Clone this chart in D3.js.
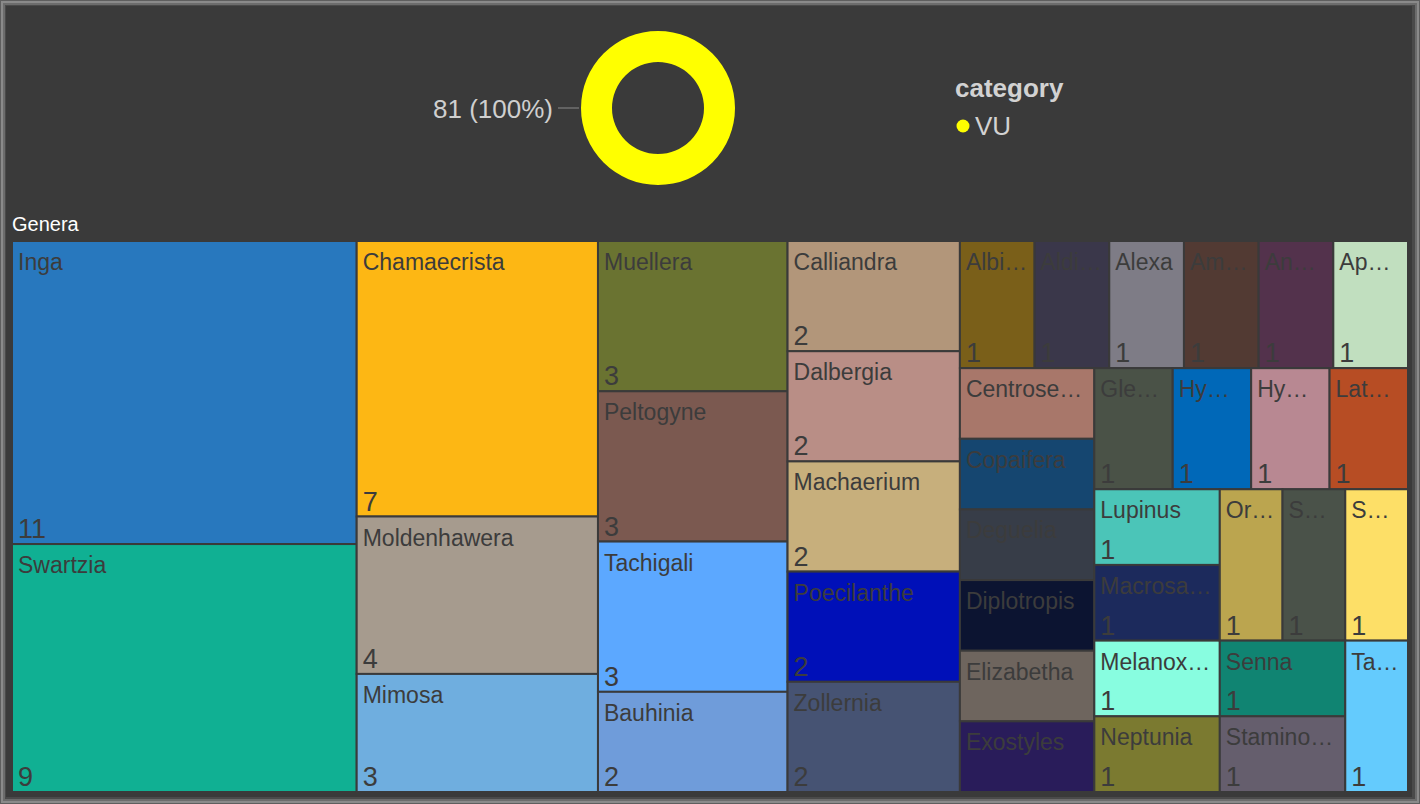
<!DOCTYPE html>
<html>
<head>
<meta charset="utf-8">
<script src="https://cdn.jsdelivr.net/npm/d3@7"></script>
<style>
html, body { margin: 0; padding: 0; background: #3a3a3a; overflow: hidden; }
svg { display: block; }
text { font-family: "Liberation Sans", Arial, sans-serif; }
</style>
</head>
<body>
<svg id="chart" width="1420" height="804"></svg>
<script>
// ---------------- data ----------------
const categories = ["VU"];
const categoryCounts = [81];
const categoryColors = ["#FFFF00"];

const genera = [
  "Inga", "Swartzia", "Chamaecrista", "Moldenhawera", "Mimosa", "Muellera", "Peltogyne", "Tachigali",
  "Bauhinia", "Calliandra", "Dalbergia", "Machaerium", "Poecilanthe", "Zollernia",
  "Albi…", "Aldi…", "Alexa", "Am…", "An…", "Ap…",
  "Centrose…", "Copaifera", "Deguelia", "Diplotropis", "Elizabetha", "Exostyles",
  "Gle…", "Hy…", "Hy…", "Lat…",
  "Lupinus", "Macrosa…", "Melanox…", "Neptunia",
  "Or…", "S…", "S…", "Senna", "Stamino…", "Ta…"
];
const generaCounts = [
  11, 9, 7, 4, 3, 3, 3, 3,
  2, 2, 2, 2, 2, 2,
  1, 1, 1, 1, 1, 1,
  1, 1, 1, 1, 1, 1,
  1, 1, 1, 1,
  1, 1, 1, 1,
  1, 1, 1, 1, 1, 1
];
const generaColors = [
  "#2878BE", "#10B093", "#FDB714", "#A69B8E", "#6FAEDF", "#6A7331", "#7B5950", "#5CA8FF",
  "#6F9CDA", "#B2967A", "#B98E86", "#C7AF7C", "#0010B8", "#465373",
  "#7A5F19", "#3A374A", "#7E7C86", "#523A33", "#53324C", "#C1DFBF",
  "#A8776A", "#154670", "#373D48", "#0C1431", "#6E655E", "#291C5A",
  "#4A5247", "#0068B8", "#B88892", "#B74D24",
  "#4BC5B8", "#1C2A5C", "#88FDE0", "#7B7A30",
  "#BBA54F", "#4A5249", "#FDDF67", "#108472", "#655E6D", "#64CBFD"
];

// ---------------- drawing ----------------
const svg = d3.select("#chart");

// frame
const frame = [
  {inset: 0, fill: "#5e5e5e"},
  {inset: 1, fill: "#8a8a8a"},
  {inset: 3, fill: "#6c6c6c"},
  {inset: 5, fill: "#4a4a4a"}
];
svg.selectAll("rect.frame").data(frame).join("rect")
  .attr("class", "frame")
  .attr("x", d => d.inset).attr("y", d => d.inset)
  .attr("width", d => 1420 - 2 * d.inset).attr("height", d => 804 - 2 * d.inset)
  .attr("fill", d => d.fill);
svg.append("rect").attr("x", 6).attr("y", 6).attr("width", 1406).attr("height", 791).attr("fill", "#3a3a3a");

// donut
const pie = d3.pie().sort(null).value(d => d);
const arc = d3.arc().innerRadius(46).outerRadius(77);
const donut = svg.append("g").attr("transform", "translate(658,108)");
donut.selectAll("path").data(pie(categoryCounts)).join("path")
  .attr("d", arc)
  .attr("fill", (d, i) => categoryColors[i]);

const total = d3.sum(categoryCounts);
const fmtPct = d3.format(".0%");
donut.selectAll("line.leader").data(pie(categoryCounts)).join("line")
  .attr("class", "leader")
  .attr("x1", -100).attr("x2", -79).attr("y1", 0).attr("y2", 0)
  .attr("stroke", "#8a8a8a").attr("stroke-width", 1);
donut.selectAll("text.dl").data(categoryCounts).join("text")
  .attr("class", "dl")
  .attr("x", -105).attr("y", 10)
  .attr("text-anchor", "end")
  .attr("fill", "#cfcfcf")
  .style("font-size", "26px")
  .text(d => `${d} (${fmtPct(d / total)})`);

// legend
const legend = svg.append("g");
legend.append("text").attr("x", 955).attr("y", 97)
  .attr("fill", "#d2d2d2").style("font-size", "26px").style("font-weight", "bold")
  .text("category");
const li = legend.selectAll("g.li").data(categories).join("g").attr("class", "li")
  .attr("transform", (d, i) => `translate(963,${126 + i * 30})`);
li.append("circle").attr("r", 6.5).attr("fill", (d, i) => categoryColors[i]);
li.append("text").attr("x", 12).attr("y", 9)
  .attr("fill", "#d2d2d2").style("font-size", "26px").text(d => d);

// treemap title
svg.append("text").attr("x", 12).attr("y", 231)
  .attr("fill", "#ffffff").style("font-size", "20px").text("Genera");

// treemap
const tmX = 12, tmY = 241, tmW = 1396, tmH = 551;
const root = d3.hierarchy({
  children: genera.map((g, i) => ({ name: g, value: generaCounts[i], color: generaColors[i], idx: i }))
})
  .sum(d => d.value || 0)
  .sort((a, b) => (b.value - a.value) || (a.data.idx - b.data.idx));

d3.treemap().tile(d3.treemapSquarify).size([tmW, tmH]).round(false)(root);

const cells = svg.append("g").attr("transform", `translate(${tmX},${tmY})`)
  .selectAll("g.cell").data(root.leaves()).join("g").attr("class", "cell");

cells.append("rect")
  .attr("x", d => d.x0).attr("y", d => d.y0)
  .attr("width", d => d.x1 - d.x0).attr("height", d => d.y1 - d.y0)
  .attr("fill", d => d.data.color)
  .attr("stroke", "#3a3a3a").attr("stroke-width", 2);

function fitText(sel, maxWFn) {
  sel.each(function (d) {
    const t = d3.select(this);
    const maxW = maxWFn(d);
    if (this.getComputedTextLength() <= maxW) return;
    let base = t.text().replace(/…$/, "");
    while (base.length > 1) {
      base = base.slice(0, -1);
      t.text(base + "…");
      if (this.getComputedTextLength() <= maxW) return;
    }
  });
}

const labels = cells.append("text")
  .attr("x", d => d.x0 + 6).attr("y", d => d.y0 + 29)
  .attr("fill", "#3c3c3c").style("font-size", "23px")
  .text(d => d.data.name);
fitText(labels, d => d.x1 - d.x0 - 11);

cells.filter(d => d.y1 - d.y0 > 73).append("text")
  .attr("x", d => d.x0 + 6).attr("y", d => d.y1 - 6)
  .attr("fill", "#3c3c3c").style("font-size", "27px")
  .text(d => d.value);
</script>
</body>
</html>
